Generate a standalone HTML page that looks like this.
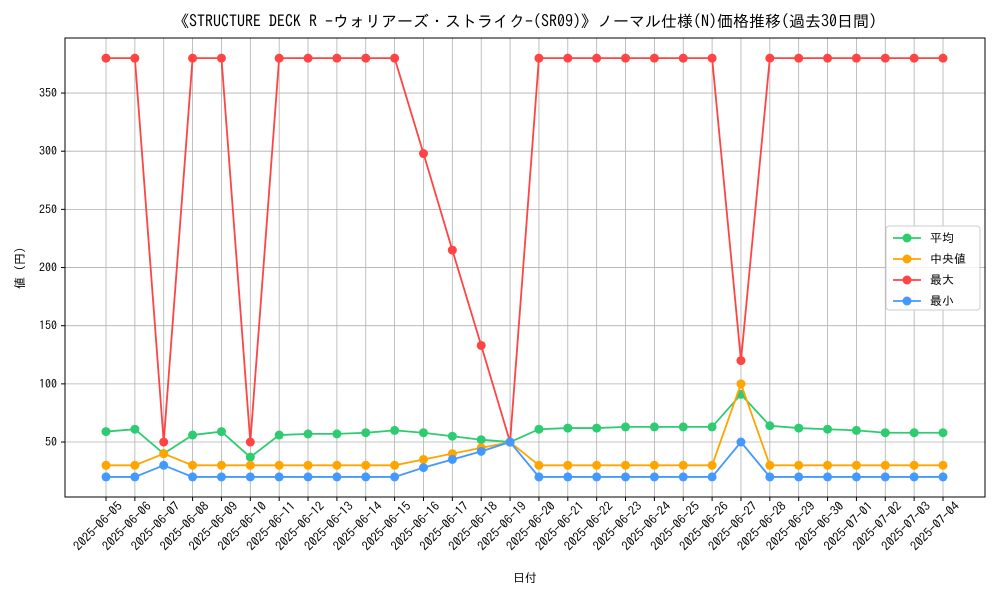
<!DOCTYPE html>
<html><head><meta charset="utf-8"><style>
body{margin:0;background:#fff}
svg{display:block;font-family:"IPAGothic","Liberation Sans","Noto Sans CJK JP",sans-serif}
</style></head><body>
<svg id="chart" width="1000" height="600">
<text x="525" y="27" text-anchor="middle" font-size="16" fill="#000">《STRUCTURE DECK R -ウォリアーズ・ストライク-(SR09)》ノーマル仕様(N)価格推移(過去30日間)</text>
<g id="grid"></g><g id="series"></g><g id="axes"></g>
<rect x="65" y="38" width="920" height="459" fill="none" stroke="#000" stroke-width="1"/>
<text x="525" y="582" text-anchor="middle" font-size="12">日付</text>
<text transform="translate(24,268) rotate(-90)" text-anchor="middle" font-size="12">値 (円)</text>
<g id="legend">
<rect x="886" y="226" width="94" height="84" rx="3" fill="#fff" fill-opacity="0.85" stroke="#ccc"/>
</g>
</svg>
<script>
const dates=["2025-06-05","2025-06-06","2025-06-07","2025-06-08","2025-06-09","2025-06-10","2025-06-11","2025-06-12","2025-06-13","2025-06-14","2025-06-15","2025-06-16","2025-06-17","2025-06-18","2025-06-19","2025-06-20","2025-06-21","2025-06-22","2025-06-23","2025-06-24","2025-06-25","2025-06-26","2025-06-27","2025-06-28","2025-06-29","2025-06-30","2025-07-01","2025-07-02","2025-07-03","2025-07-04"];
const avgValues=[59,61,40,56,59,37,56,57,57,58,60,58,55,52,50,61,62,62,63,63,63,63,91,64,62,61,60,58,58,58];
const medianValues=[30,30,40,30,30,30,30,30,30,30,30,35,40,45,50,30,30,30,30,30,30,30,100,30,30,30,30,30,30,30];
const maxValues=[380,380,50,380,380,50,380,380,380,380,380,298,215,133,50,380,380,380,380,380,380,380,120,380,380,380,380,380,380,380];
const minValues=[20,20,30,20,20,20,20,20,20,20,20,28,35,42,50,20,20,20,20,20,20,20,50,20,20,20,20,20,20,20];
const yTicks=[50,100,150,200,250,300,350];
const seriesNames=["平均","中央値","最大","最小"];
const NS="http://www.w3.org/2000/svg";
const xS=i=>106+i*(943-106)/(dates.length-1);
const yS=v=>500.2-v*1.1633;
function mk(t,a,p){const e=document.createElementNS(NS,t);for(const k in a)e.setAttribute(k,a[k]);p.appendChild(e);return e;}
const grid=document.getElementById('grid'),axes=document.getElementById('axes'),ser=document.getElementById('series'),leg=document.getElementById('legend');
dates.forEach((d,i)=>{const x=xS(i);
 const g=mk('line',{x1:x,x2:x,y1:38,y2:497,stroke:'#b0b0b0','stroke-width':0.8},grid);
 
 
 const tk=mk('line',{x1:x,x2:x,y1:497,y2:501,stroke:'#000'},axes);
 
 
 const lx=x+17,ly=507;
 const t=mk('text',{x:lx,y:ly,'font-size':12.5,'text-anchor':'end',transform:`rotate(-45 ${lx} ${ly})`},axes);
 t.textContent=d;
 
 
});
yTicks.forEach(v=>{const y=yS(v);
 const g=mk('line',{x1:65,x2:985,y1:y,y2:y,stroke:'#b0b0b0','stroke-width':0.8},grid);
 
 
 const tk=mk('line',{x1:61,x2:65,y1:y,y2:y,stroke:'#000'},axes);
 
 
 const t=mk('text',{x:57,y:y+4,'font-size':12,'text-anchor':'end'},axes);
 t.textContent=v;
 
 
});
const all=[[avgValues,'#2ecc71','avg'],[medianValues,'#ffa500','median'],[maxValues,'#ff4444','max'],[minValues,'#4499ff','min']];
all.forEach(([vals,c,n],si)=>{
 const pl=mk('polyline',{points:vals.map((v,i)=>xS(i)+','+yS(v)).join(' '),fill:'none',stroke:c,'stroke-width':1.8},ser);
 
 
 vals.forEach((v,i)=>{const p=mk('circle',{cx:xS(i),cy:yS(v),r:4.5,fill:c},ser);
  
  });
 const ly=238+si*21;
 const ll=mk('line',{x1:893,x2:921,y1:ly,y2:ly,stroke:c,'stroke-width':1.8},leg);
 
 
 const lc=mk('circle',{cx:907,cy:ly,r:4.5,fill:c},leg);
 
 
 const lt=mk('text',{x:930,y:ly+4,'font-size':12},leg);
 lt.textContent=seriesNames[si];
 
 
});
</script>
</body></html>
